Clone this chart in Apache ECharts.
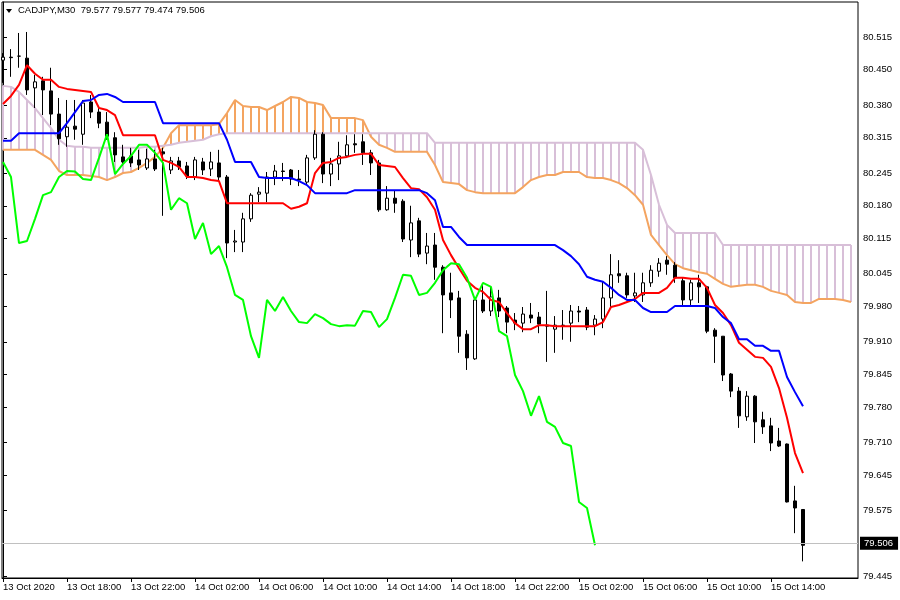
<!DOCTYPE html>
<html><head><meta charset="utf-8">
<script src="https://cdn.jsdelivr.net/npm/echarts@6/dist/echarts.min.js"></script>
<style>html,body{margin:0;padding:0;background:#fff}#c{width:900px;height:600px}</style>
</head><body><div id="c"></div>
<script>
const symbol = 'CADJPY';
const timeframe = 'M30';
// bar index of each time label (M30 bars, bar 0 = 13 Oct 14:00)
const labelBars = [0, 8, 16, 24, 32, 40, 48, 56, 64, 72, 80, 88, 96];
const timeLabels = ['13 Oct 2020', '13 Oct 18:00', '13 Oct 22:00', '14 Oct 02:00', '14 Oct 06:00', '14 Oct 10:00',
  '14 Oct 14:00', '14 Oct 18:00', '14 Oct 22:00', '15 Oct 02:00', '15 Oct 06:00', '15 Oct 10:00', '15 Oct 14:00'];
const priceTicks = [80.515, 80.450, 80.380, 80.315, 80.245, 80.180, 80.115, 80.045, 79.980, 79.910, 79.845,
  79.780, 79.710, 79.645, 79.575, 79.445];
const lastPrice = 79.506;

const opens = [80.469, 80.475, 80.477, 80.473, 80.414, 80.428, 80.408, 80.362, 80.317, 80.338,
  80.322, 80.386, 80.366, 80.346, 80.315, 80.277, 80.279, 80.271, 80.255, 80.273,
  80.287, 80.251, 80.269, 80.259, 80.237, 80.267, 80.253, 80.265, 80.237, 80.108,
  80.108, 80.154, 80.203, 80.205, 80.237, 80.249, 80.251, 80.233, 80.227, 80.275,
  80.322, 80.243, 80.263, 80.279, 80.303, 80.307, 80.285, 80.265, 80.172, 80.195,
  80.189, 80.112, 80.150, 80.086, 80.102, 80.058, 80.007, 79.997, 79.925, 79.876,
  79.993, 79.971, 79.997, 79.977, 79.953, 79.947, 79.963, 79.959, 79.943, 79.935,
  79.943, 79.947, 79.971, 79.973, 79.943, 79.955, 79.997, 80.045, 80.041, 80.001,
  80.003, 80.027, 80.050, 80.072, 80.062, 80.031, 79.993, 80.027, 80.019, 79.933,
  79.921, 79.846, 79.812, 79.761, 79.802, 79.755, 79.743, 79.713, 79.707, 79.594,
  79.577];
const closes = [80.475, 80.474, 80.477, 80.410, 80.426, 80.410, 80.362, 80.313, 80.336, 80.332,
  80.384, 80.366, 80.344, 80.318, 80.281, 80.267, 80.265, 80.261, 80.273, 80.253,
  80.283, 80.269, 80.257, 80.239, 80.271, 80.251, 80.267, 80.237, 80.106, 80.110,
  80.154, 80.201, 80.207, 80.237, 80.249, 80.248, 80.233, 80.231, 80.275, 80.322,
  80.243, 80.263, 80.279, 80.301, 80.301, 80.285, 80.265, 80.172, 80.195, 80.185,
  80.114, 80.146, 80.084, 80.100, 80.058, 80.003, 79.993, 79.921, 79.878, 79.993,
  79.971, 79.999, 79.971, 79.949, 79.947, 79.965, 79.957, 79.945, 79.941, 79.943,
  79.942, 79.971, 79.969, 79.939, 79.955, 79.997, 80.043, 80.041, 80.003, 80.007,
  80.027, 80.052, 80.066, 80.064, 80.037, 79.993, 80.027, 80.019, 79.931, 79.921,
  79.844, 79.812, 79.763, 79.802, 79.751, 79.741, 79.709, 79.703, 79.592, 79.580,
  79.506];
const highs = [80.483, 80.491, 80.523, 80.525, 80.440, 80.436, 80.454, 80.394, 80.390, 80.390,
  80.390, 80.400, 80.374, 80.366, 80.326, 80.301, 80.295, 80.291, 80.293, 80.291,
  80.295, 80.277, 80.277, 80.267, 80.277, 80.275, 80.287, 80.291, 80.241, 80.132,
  80.166, 80.205, 80.217, 80.247, 80.261, 80.265, 80.253, 80.251, 80.281, 80.330,
  80.326, 80.275, 80.307, 80.320, 80.322, 80.322, 80.291, 80.271, 80.219, 80.211,
  80.193, 80.180, 80.156, 80.126, 80.126, 80.062, 80.047, 80.011, 79.933, 79.997,
  80.023, 80.019, 80.013, 79.981, 79.967, 79.979, 79.987, 79.969, 80.011, 79.961,
  79.973, 79.983, 79.981, 79.979, 79.963, 80.029, 80.084, 80.072, 80.047, 80.047,
  80.047, 80.062, 80.076, 80.080, 80.068, 80.037, 80.033, 80.043, 80.021, 79.937,
  79.921, 79.848, 79.820, 79.812, 79.804, 79.771, 79.759, 79.739, 79.708, 79.624,
  79.577];
const lows = [80.424, 80.436, 80.454, 80.400, 80.374, 80.360, 80.340, 80.301, 80.297, 80.311,
  80.301, 80.354, 80.334, 80.311, 80.267, 80.259, 80.257, 80.251, 80.251, 80.249,
  80.160, 80.243, 80.251, 80.233, 80.231, 80.241, 80.239, 80.231, 80.076, 80.088,
  80.088, 80.148, 80.187, 80.187, 80.221, 80.229, 80.221, 80.219, 80.221, 80.271,
  80.225, 80.219, 80.231, 80.275, 80.285, 80.261, 80.241, 80.168, 80.170, 80.166,
  80.108, 80.078, 80.078, 80.064, 80.033, 79.927, 79.957, 79.888, 79.854, 79.874,
  79.967, 79.961, 79.959, 79.927, 79.933, 79.929, 79.947, 79.927, 79.870, 79.888,
  79.914, 79.910, 79.949, 79.933, 79.923, 79.937, 79.979, 80.027, 79.997, 79.989,
  79.989, 80.019, 80.039, 80.043, 80.027, 79.983, 79.983, 79.987, 79.927, 79.868,
  79.832, 79.800, 79.739, 79.753, 79.709, 79.727, 79.693, 79.701, 79.591, 79.530,
  79.474];

const tenkan = [80.382, 80.398, 80.420, 80.459, 80.442, 80.430, 80.430, 80.416, 80.412, 80.410,
  80.408, 80.406, 80.374, 80.370, 80.360, 80.320, 80.320, 80.320, 80.320, 80.320,
  80.271, 80.265, 80.257, 80.237, 80.237, 80.235, 80.231, 80.229, 80.185, 80.185,
  80.185, 80.185, 80.185, 80.185, 80.185, 80.185, 80.174, 80.178, 80.185, 80.245,
  80.265, 80.267, 80.275, 80.277, 80.281, 80.283, 80.283, 80.261, 80.259, 80.257,
  80.235, 80.215, 80.213, 80.197, 80.172, 80.112, 80.082, 80.056, 80.031, 80.017,
  80.009, 79.993, 79.989, 79.967, 79.947, 79.935, 79.935, 79.943, 79.943, 79.941,
  79.941, 79.941, 79.941, 79.941, 79.941, 79.949, 79.979, 79.983, 79.989, 79.995,
  80.007, 80.007, 80.007, 80.017, 80.037, 80.037, 80.035, 80.035, 80.017, 79.983,
  79.967, 79.943, 79.908, 79.894, 79.880, 79.878, 79.860, 79.818, 79.759, 79.689,
  79.649];
const kijun = [80.309, 80.309, 80.324, 80.324, 80.324, 80.324, 80.324, 80.324, 80.344, 80.366,
  80.388, 80.390, 80.400, 80.402, 80.396, 80.386, 80.386, 80.386, 80.386, 80.386,
  80.344, 80.344, 80.344, 80.344, 80.344, 80.344, 80.344, 80.344, 80.311, 80.267,
  80.267, 80.267, 80.237, 80.235, 80.235, 80.235, 80.235, 80.229, 80.221, 80.205,
  80.205, 80.205, 80.205, 80.205, 80.211, 80.211, 80.211, 80.211, 80.211, 80.211,
  80.211, 80.211, 80.211, 80.205, 80.191, 80.138, 80.138, 80.118, 80.102, 80.102,
  80.102, 80.102, 80.102, 80.102, 80.102, 80.102, 80.102, 80.102, 80.102, 80.102,
  80.092, 80.080, 80.064, 80.039, 80.033, 80.029, 80.017, 80.003, 79.993, 79.993,
  79.977, 79.969, 79.969, 79.969, 79.981, 79.981, 79.981, 79.981, 79.981, 79.977,
  79.959, 79.947, 79.915, 79.915, 79.902, 79.902, 79.892, 79.892, 79.840, 79.810,
  79.782];
const chikou = [80.267, 80.237, 80.106, 80.110, 80.154, 80.201, 80.207, 80.237, 80.249, 80.248,
  80.233, 80.231, 80.275, 80.322, 80.243, 80.263, 80.279, 80.301, 80.301, 80.285,
  80.265, 80.172, 80.195, 80.185, 80.114, 80.146, 80.084, 80.100, 80.058, 80.003,
  79.993, 79.921, 79.878, 79.993, 79.971, 79.999, 79.971, 79.949, 79.947, 79.965,
  79.957, 79.945, 79.941, 79.943, 79.942, 79.971, 79.969, 79.939, 79.955, 79.997,
  80.043, 80.041, 80.003, 80.007, 80.027, 80.052, 80.066, 80.064, 80.037, 79.993,
  80.027, 80.019, 79.931, 79.921, 79.844, 79.812, 79.763, 79.802, 79.751, 79.741,
  79.709, 79.703, 79.592, 79.580, 79.506];
const senkouA = [80.291, 80.291, 80.291, 80.291, 80.291, 80.281, 80.271, 80.249, 80.241, 80.241,
  80.241, 80.239, 80.237, 80.231, 80.237, 80.245, 80.247, 80.255, 80.265, 80.277,
  80.295, 80.324, 80.340, 80.340, 80.340, 80.340, 80.340, 80.342, 80.364, 80.390,
  80.378, 80.376, 80.376, 80.370, 80.378, 80.386, 80.396, 80.394, 80.386, 80.384,
  80.380, 80.354, 80.354, 80.354, 80.354, 80.350, 80.317, 80.301, 80.295, 80.287,
  80.287, 80.287, 80.287, 80.287, 80.261, 80.227, 80.225, 80.223, 80.211, 80.207,
  80.205, 80.205, 80.205, 80.205, 80.205, 80.217, 80.231, 80.237, 80.241, 80.241,
  80.247, 80.247, 80.247, 80.237, 80.235, 80.235, 80.231, 80.225, 80.215, 80.201,
  80.182, 80.122, 80.102, 80.082, 80.064, 80.056, 80.052, 80.048, 80.045, 80.035,
  80.025, 80.019, 80.021, 80.023, 80.023, 80.019, 80.011, 80.007, 80.003, 79.989,
  79.987, 79.987, 79.995, 79.995, 79.995, 79.993, 79.989];
const senkouB = [80.418, 80.416, 80.406, 80.390, 80.374, 80.354, 80.334, 80.311, 80.299, 80.297,
  80.297, 80.295, 80.295, 80.295, 80.295, 80.295, 80.295, 80.295, 80.297, 80.297,
  80.299, 80.301, 80.305, 80.307, 80.309, 80.311, 80.318, 80.322, 80.324, 80.324,
  80.324, 80.324, 80.324, 80.324, 80.324, 80.324, 80.324, 80.324, 80.324, 80.324,
  80.324, 80.324, 80.324, 80.324, 80.324, 80.324, 80.324, 80.324, 80.324, 80.324,
  80.324, 80.324, 80.324, 80.324, 80.305, 80.305, 80.305, 80.305, 80.305, 80.305,
  80.305, 80.305, 80.305, 80.305, 80.305, 80.305, 80.305, 80.305, 80.305, 80.305,
  80.305, 80.305, 80.305, 80.305, 80.305, 80.305, 80.305, 80.305, 80.305, 80.305,
  80.291, 80.241, 80.182, 80.142, 80.126, 80.126, 80.126, 80.126, 80.126, 80.126,
  80.102, 80.102, 80.102, 80.102, 80.102, 80.102, 80.102, 80.102, 80.102, 80.102,
  80.102, 80.102, 80.102, 80.102, 80.102, 80.102, 80.102];

const FONT = 'Liberation Sans';
const n = closes.length - 1;
const titleText = symbol + ',' + timeframe + '  ' + opens[n].toFixed(3) + ' ' + highs[n].toFixed(3) + ' ' +
  lows[n].toFixed(3) + ' ' + closes[n].toFixed(3);

const candleData = opens.map((o, i) => [i, o, closes[i], lows[i], highs[i]]);
const kumoData = senkouA.map((a, i) => [i, a, senkouB[i]]);
const toXY = arr => arr.map((v, i) => [i, v]);
const lineSeries = (name, arr, color, z) => ({
  name, type: 'line', data: toXY(arr), showSymbol: false, symbol: 'none', z,
  lineStyle: { color, width: 2 }, silent: true, animation: false, clip: true
});

const chart = echarts.init(document.getElementById('c'), null, { renderer: 'canvas' });
chart.setOption({
  animation: false,
  backgroundColor: '#ffffff',
  textStyle: { fontFamily: FONT },
  grid: { left: 2, right: 42, top: 2, bottom: 22, show: true, borderColor: '#000', borderWidth: 1, backgroundColor: 'transparent' },
  xAxis: {
    type: 'value', min: -0.125, max: 106.875,
    axisLine: { show: true, lineStyle: { color: '#000', width: 1 } },
    axisTick: { show: true, customValues: labelBars, length: 4, lineStyle: { color: '#000' } },
    axisLabel: {
      show: true, customValues: labelBars, align: 'left', margin: 4,
      color: '#000', fontSize: 9.5, fontFamily: FONT,
      formatter: v => timeLabels[labelBars.indexOf(Math.round(v))] || ''
    },
    splitLine: { show: false }
  },
  yAxis: {
    type: 'value', position: 'right', min: 79.441, max: 80.5845, scale: true,
    axisLine: { show: true, lineStyle: { color: '#000', width: 1 } },
    axisTick: { show: true, customValues: priceTicks, length: 4, lineStyle: { color: '#000' } },
    axisLabel: {
      show: true, customValues: priceTicks, margin: 5, color: '#000', fontSize: 9.5, fontFamily: FONT,
      formatter: v => v.toFixed(3)
    },
    splitLine: { show: false }
  },
  graphic: [
    { type: 'polygon', shape: { points: [[6, 9], [12, 9], [9, 13]] }, style: { fill: '#000' }, z: 100 },
    { type: 'text', x: 18, y: 5, style: { text: titleText, fontSize: 9.5, fontFamily: FONT, fill: '#000' }, z: 100 }
  ],
  series: [
    {
      name: 'Kumo', type: 'custom', data: kumoData, z: 1, silent: true, clip: true,
      encode: { x: 0, y: [1, 2] },
      renderItem: (params, api) => {
        const i = api.value(0), a = api.value(1), b = api.value(2);
        const p1 = api.coord([i, a]), p2 = api.coord([i, b]);
        return {
          type: 'line',
          shape: { x1: p1[0], y1: p1[1], x2: p2[0], y2: p2[1] },
          style: { stroke: a > b ? '#F4A460' : '#D8BFD8', lineWidth: 2 }
        };
      }
    },
    lineSeries('Senkou Span A', senkouA, '#F4A460', 2),
    lineSeries('Senkou Span B', senkouB, '#D8BFD8', 2),
    {
      name: symbol, type: 'candlestick', data: candleData, z: 3, barWidth: 4, silent: true,
      encode: { x: 0, y: [1, 2, 3, 4] },
      itemStyle: { color: '#ffffff', color0: '#000000', borderColor: '#000000', borderColor0: '#000000', borderWidth: 1 },
      markLine: {
        silent: true, symbol: 'none', animation: false,
        lineStyle: { color: '#c0c0c0', type: 'solid', width: 1 },
        label: {
          show: true, position: 'end', formatter: lastPrice.toFixed(3), distance: 2,
          backgroundColor: '#000', color: '#fff', fontSize: 9.5, fontFamily: FONT, padding: [2, 5, 1, 4]
        },
        data: [{ yAxis: lastPrice }]
      }
    },
    lineSeries('Tenkan-sen', tenkan, '#FF0000', 4),
    lineSeries('Kijun-sen', kijun, '#0000FF', 4),
    lineSeries('Chikou Span', chikou, '#00FF00', 4)
  ]
});
</script></body></html>
